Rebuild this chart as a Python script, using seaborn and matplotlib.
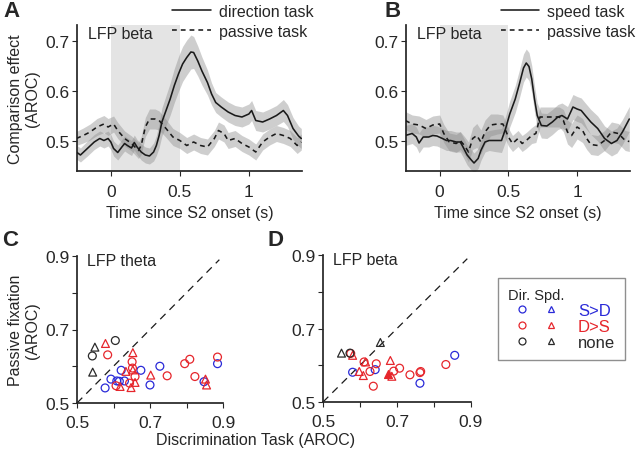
import numpy as np
import pandas as pd
import seaborn as sns
import matplotlib.pyplot as plt
from matplotlib.lines import Line2D
from matplotlib.legend_handler import HandlerTuple

# ---- panel A: direction task vs passive (LFP beta) ----
dir_t = [-0.25, -0.22, -0.17, -0.12, -0.08, -0.05, -0.02, 0.0, 0.02, 0.05,
         0.08, 0.10, 0.12, 0.15, 0.17, 0.19, 0.22, 0.25, 0.28, 0.31,
         0.33, 0.35, 0.37, 0.40, 0.43, 0.46, 0.49, 0.52, 0.55, 0.58,
         0.60, 0.63, 0.66, 0.70, 0.73, 0.76, 0.80, 0.85, 0.90, 0.95,
         1.0, 1.02, 1.05, 1.10, 1.15, 1.20, 1.25, 1.28, 1.32, 1.36, 1.38]
dir_v = [0.478, 0.472, 0.485, 0.498, 0.505, 0.501, 0.505, 0.498, 0.485, 0.477,
         0.488, 0.495, 0.491, 0.486, 0.497, 0.488, 0.478, 0.472, 0.470, 0.478,
         0.491, 0.511, 0.538, 0.561, 0.584, 0.611, 0.634, 0.654, 0.667, 0.678,
         0.677, 0.660, 0.640, 0.617, 0.594, 0.577, 0.568, 0.558, 0.551, 0.548,
         0.554, 0.561, 0.541, 0.538, 0.544, 0.551, 0.561, 0.551, 0.525, 0.510, 0.505]
dir_sem = [0.014, 0.014, 0.015, 0.015, 0.015, 0.015, 0.015, 0.015, 0.015, 0.015,
           0.015, 0.015, 0.015, 0.015, 0.015, 0.015, 0.016, 0.016, 0.016, 0.018,
           0.020, 0.024, 0.028, 0.030, 0.032, 0.034, 0.035, 0.035, 0.035, 0.034,
           0.032, 0.030, 0.028, 0.025, 0.022, 0.020, 0.020, 0.020, 0.020, 0.020,
           0.020, 0.020, 0.020, 0.020, 0.020, 0.020, 0.022, 0.022, 0.022, 0.020, 0.020]

pasA_t = [-0.25, -0.2, -0.15, -0.1, -0.05, -0.02, 0.02, 0.05, 0.1, 0.15,
          0.2, 0.22, 0.25, 0.28, 0.32, 0.35, 0.4, 0.45, 0.5, 0.55,
          0.6, 0.65, 0.7, 0.75, 0.78, 0.82, 0.85, 0.9, 0.95, 1.0,
          1.05, 1.1, 1.15, 1.2, 1.25, 1.3, 1.35, 1.38]
pasA_v = [0.505, 0.511, 0.518, 0.528, 0.534, 0.528, 0.534, 0.521, 0.505, 0.495,
          0.481, 0.491, 0.528, 0.544, 0.544, 0.541, 0.525, 0.508, 0.501, 0.491,
          0.498, 0.491, 0.488, 0.505, 0.521, 0.515, 0.501, 0.505, 0.495, 0.488,
          0.478, 0.498, 0.508, 0.515, 0.511, 0.505, 0.491, 0.498]
pasA_sem = [0.014, 0.015, 0.016, 0.017, 0.017, 0.017, 0.016, 0.016, 0.015, 0.015,
            0.016, 0.018, 0.019, 0.020, 0.020, 0.019, 0.018, 0.017, 0.016, 0.016,
            0.016, 0.016, 0.016, 0.016, 0.017, 0.017, 0.016, 0.016, 0.016, 0.016,
            0.016, 0.016, 0.016, 0.016, 0.016, 0.016, 0.016, 0.016]

# ---- panel B: speed task vs passive (LFP beta) ----
spd_t = [-0.25, -0.2, -0.17, -0.15, -0.12, -0.08, -0.05, -0.02, 0.02, 0.05,
         0.08, 0.12, 0.15, 0.17, 0.2, 0.23, 0.25, 0.28, 0.3, 0.33,
         0.36, 0.4, 0.45, 0.48, 0.51, 0.55, 0.58, 0.61, 0.63, 0.65,
         0.67, 0.69, 0.71, 0.74, 0.78, 0.82, 0.86, 0.89, 0.93, 0.97,
         1.0, 1.03, 1.06, 1.1, 1.15, 1.2, 1.25, 1.29, 1.33, 1.38]
spd_v = [0.511, 0.515, 0.508, 0.496, 0.508, 0.508, 0.511, 0.510, 0.505, 0.501,
         0.501, 0.498, 0.498, 0.488, 0.472, 0.462, 0.456, 0.465, 0.481, 0.498,
         0.501, 0.501, 0.501, 0.525, 0.554, 0.584, 0.614, 0.646, 0.656, 0.649,
         0.624, 0.584, 0.551, 0.531, 0.530, 0.538, 0.548, 0.551, 0.544, 0.568,
         0.564, 0.561, 0.551, 0.538, 0.525, 0.505, 0.495, 0.501, 0.518, 0.544]
spd_sem = [0.020, 0.020, 0.020, 0.020, 0.020, 0.020, 0.020, 0.020, 0.020, 0.020,
           0.020, 0.020, 0.020, 0.020, 0.020, 0.020, 0.020, 0.020, 0.020, 0.020,
           0.020, 0.022, 0.024, 0.025, 0.026, 0.027, 0.028, 0.028, 0.028, 0.028,
           0.027, 0.026, 0.025, 0.025, 0.025, 0.025, 0.025, 0.025, 0.025, 0.025,
           0.025, 0.025, 0.025, 0.025, 0.025, 0.025, 0.025, 0.025, 0.025, 0.025]

pasB_t = [-0.25, -0.2, -0.15, -0.1, -0.05, 0.0, 0.03, 0.07, 0.12, 0.15,
          0.18, 0.21, 0.24, 0.27, 0.3, 0.33, 0.37, 0.42, 0.46, 0.5,
          0.53, 0.57, 0.6, 0.63, 0.67, 0.7, 0.73, 0.77, 0.82, 0.87,
          0.9, 0.93, 0.96, 1.0, 1.04, 1.07, 1.1, 1.15, 1.2, 1.25,
          1.3, 1.35, 1.38]
pasB_v = [0.541, 0.534, 0.532, 0.525, 0.532, 0.534, 0.515, 0.498, 0.495, 0.501,
          0.491, 0.478, 0.505, 0.511, 0.498, 0.518, 0.532, 0.534, 0.534, 0.508,
          0.495, 0.505, 0.495, 0.501, 0.511, 0.515, 0.548, 0.548, 0.548, 0.548,
          0.541, 0.518, 0.511, 0.528, 0.521, 0.505, 0.493, 0.491, 0.501, 0.518,
          0.515, 0.501, 0.499]
pasB_sem = [0.018, 0.018, 0.018, 0.018, 0.018, 0.018, 0.018, 0.018, 0.018, 0.018,
            0.018, 0.020, 0.022, 0.024, 0.024, 0.024, 0.022, 0.020, 0.018, 0.018,
            0.016, 0.016, 0.016, 0.016, 0.016, 0.018, 0.020, 0.020, 0.020, 0.020,
            0.022, 0.024, 0.024, 0.024, 0.024, 0.022, 0.020, 0.020, 0.020, 0.020,
            0.020, 0.020, 0.020]

# ---- panel C: LFP theta, task vs passive AROC ----
C_red_o_x = [0.584, 0.651, 0.652, 0.659, 0.607, 0.644, 0.747, 0.795, 0.809, 0.823, 0.885]
C_red_o_y = [0.631, 0.612, 0.595, 0.572, 0.547, 0.554, 0.574, 0.607, 0.619, 0.572, 0.625]
C_red_t_x = [0.578, 0.653, 0.634, 0.653, 0.618, 0.648, 0.659, 0.702, 0.852, 0.855]
C_red_t_y = [0.662, 0.637, 0.586, 0.590, 0.545, 0.542, 0.556, 0.576, 0.565, 0.549]
C_blue_o_x = [0.577, 0.593, 0.609, 0.621, 0.616, 0.630, 0.675, 0.700, 0.727, 0.848, 0.885]
C_blue_o_y = [0.541, 0.565, 0.560, 0.589, 0.559, 0.560, 0.589, 0.549, 0.600, 0.558, 0.607]
C_blk_o_x = [0.542, 0.605]
C_blk_o_y = [0.628, 0.670]
C_blk_t_x = [0.549, 0.543]
C_blk_t_y = [0.652, 0.584]

# ---- panel D: LFP beta ----
D_red_o_x = [0.575, 0.611, 0.627, 0.644, 0.636, 0.691, 0.707, 0.735, 0.764, 0.762, 0.832]
D_red_o_y = [0.632, 0.609, 0.583, 0.604, 0.543, 0.584, 0.592, 0.574, 0.583, 0.580, 0.602]
D_red_t_x = [0.580, 0.615, 0.598, 0.609, 0.682, 0.686]
D_red_t_y = [0.627, 0.609, 0.583, 0.572, 0.613, 0.570]
D_red_fill_x = [0.675]
D_red_fill_y = [0.577]
D_blue_o_x = [0.580, 0.641, 0.762, 0.856]
D_blue_o_y = [0.581, 0.588, 0.551, 0.627]
D_blk_o_x = [0.573]
D_blk_o_y = [0.633]
D_blk_t_x = [0.550, 0.655]
D_blk_t_y = [0.633, 0.662]

BLUE = "#2a2ad8"
RED = "#e6262c"
BLK = "#2a2a2a"

sns.set_theme(style="ticks")
plt.rcParams["font.family"] = ["Liberation Sans", "DejaVu Sans"]
plt.rcParams["font.size"] = 11

TICK = 12.5
LAB = 11.5

fig = plt.figure(figsize=(6.4, 4.52), dpi=100)


def ax_at(l, t, r, b):
    # pixel box -> figure fraction axes
    return fig.add_axes([l / 640, 1 - b / 452, (r - l) / 640, (b - t) / 452])


def time_panel(ax, t1, v1, s1, t2, v2, s2, lab1):
    ax.axvspan(0, 0.5, color="#e4e4e4", lw=0, zorder=0)
    for t, v, s in [(t1, v1, s1), (t2, v2, s2)]:
        t, v, s = np.array(t), np.array(v), np.array(s)
        ax.fill_between(t, v - s, v + s, color="0.55", alpha=0.42, lw=0, zorder=1)
    sns.lineplot(x=t1, y=v1, ax=ax, color="k", lw=1.15, label=lab1, zorder=3)
    sns.lineplot(x=t2, y=v2, ax=ax, color="k", lw=1.15, ls=(0, (3, 2.5)),
                 label="passive task", zorder=3)
    ax.set_xlim(-0.245, 1.385)
    ax.set_ylim(0.44, 0.732)
    ax.set_xticks([0, 0.5, 1])
    ax.set_xticklabels(["0", "0.5", "1"])
    ax.set_yticks([0.5, 0.6, 0.7])
    ax.set_xlabel("Time since S2 onset (s)", fontsize=LAB, labelpad=4)
    ax.text(0.05, 0.99, "LFP beta", transform=ax.transAxes, ha="left", va="top", fontsize=LAB)
    sns.despine(ax=ax)
    ax.tick_params(labelsize=TICK, length=3.5, width=0.8, pad=2)
    ax.tick_params(axis="x", pad=6)


leg_kw = dict(frameon=False, fontsize=LAB, handlelength=2.4, handletextpad=0.5,
              labelspacing=0.3, borderpad=0.1, borderaxespad=0.2)

axA = ax_at(77, 26, 302, 172)
time_panel(axA, dir_t, dir_v, dir_sem, pasA_t, pasA_v, pasA_sem, "direction task")
axA.set_ylabel("Comparison effect\n(AROC)", fontsize=LAB, labelpad=4, linespacing=1.1)
axA.legend(loc="upper right", bbox_to_anchor=(0.497, 1.0), bbox_transform=fig.transFigure, **leg_kw)

axB = ax_at(406, 26, 630, 172)
time_panel(axB, spd_t, spd_v, spd_sem, pasB_t, pasB_v, pasB_sem, "speed task")
axB.set_yticklabels(["0.5", "0.6", "0.7"])
axB.legend(loc="upper right", bbox_to_anchor=(1.0, 1.0), bbox_transform=fig.transFigure, **leg_kw)


def scat(ax, x, y, marker, col, filled=False):
    sns.scatterplot(x=x, y=y, ax=ax, marker=marker, s=32,
                    facecolor=col if filled else "none", edgecolor=col,
                    linewidth=0.9, zorder=3)


def scatter_panel(ax, title):
    ax.plot([0.5, 0.89], [0.5, 0.89], color="k", lw=0.9, ls=(0, (6, 4.5)), zorder=1)
    ax.set_xlim(0.5, 0.9)
    ax.set_ylim(0.5, 0.9)
    ax.set_xticks([0.5, 0.6, 0.7, 0.8, 0.9])
    ax.set_xticklabels(["0.5", "", "0.7", "", "0.9"])
    ax.set_yticks([0.5, 0.6, 0.7, 0.8, 0.9])
    ax.set_yticklabels(["0.5", "", "0.7", "", "0.9"])
    ax.text(0.07, 1.02, title, transform=ax.transAxes, ha="left", va="top", fontsize=LAB)
    sns.despine(ax=ax)
    ax.tick_params(labelsize=TICK, length=3.5, width=0.8, pad=2)
    ax.tick_params(axis="x", pad=5)


axC = ax_at(77, 257, 223, 404)
scatter_panel(axC, "LFP theta")
scat(axC, C_blue_o_x, C_blue_o_y, "o", BLUE)
scat(axC, C_red_o_x, C_red_o_y, "o", RED)
scat(axC, C_red_t_x, C_red_t_y, "^", RED)
scat(axC, C_blk_o_x, C_blk_o_y, "o", BLK)
scat(axC, C_blk_t_x, C_blk_t_y, "^", BLK)
axC.set_ylabel("Passive fixation\n(AROC)", fontsize=LAB, labelpad=4, linespacing=1.1)

axD = ax_at(323, 256, 471, 403)
scatter_panel(axD, "LFP beta")
scat(axD, D_blue_o_x, D_blue_o_y, "o", BLUE)
scat(axD, D_red_o_x, D_red_o_y, "o", RED)
scat(axD, D_red_t_x, D_red_t_y, "^", RED)
scat(axD, D_red_fill_x, D_red_fill_y, "^", RED, filled=True)
scat(axD, D_blk_o_x, D_blk_o_y, "o", BLK)
scat(axD, D_blk_t_x, D_blk_t_y, "^", BLK)

fig.text(0.40, 0.025, "Discrimination Task (AROC)", ha="center", va="center", fontsize=LAB)

# legend for the scatter panels
handles, labels = [], []
for col, lab in [(BLUE, "S>D"), (RED, "D>S"), (BLK, "none")]:
    o = Line2D([], [], ls="", marker="o", ms=5, mfc="none", mec=col, mew=0.9)
    tr = Line2D([], [], ls="", marker="^", ms=5, mfc="none", mec=col, mew=0.9)
    handles.append((o, tr))
    labels.append(lab)
leg = fig.legend(handles, labels, title="Dir. Spd.", loc="upper left",
                 bbox_to_anchor=(498 / 640, 1 - 279 / 452),
                 handler_map={tuple: HandlerTuple(ndivide=None, pad=0.06)},
                 handlelength=3.4, handletextpad=0.8, fontsize=12,
                 title_fontsize=10.5, alignment="left", fancybox=False,
                 edgecolor="0.45", labelspacing=0.05, borderpad=0.6,
                 borderaxespad=0)
leg.get_frame().set_linewidth(1.0)
for txt, col in zip(leg.get_texts(), [BLUE, RED, BLK]):
    txt.set_color(col)

# panel letters
for s, x, y in [("A", 0.006, 0.998), ("B", 0.600, 0.998), ("C", 0.004, 0.492), ("D", 0.418, 0.492)]:
    fig.text(x, y, s, fontsize=16, fontweight="bold", ha="left", va="top")

fig.savefig("out.png", dpi=100)
